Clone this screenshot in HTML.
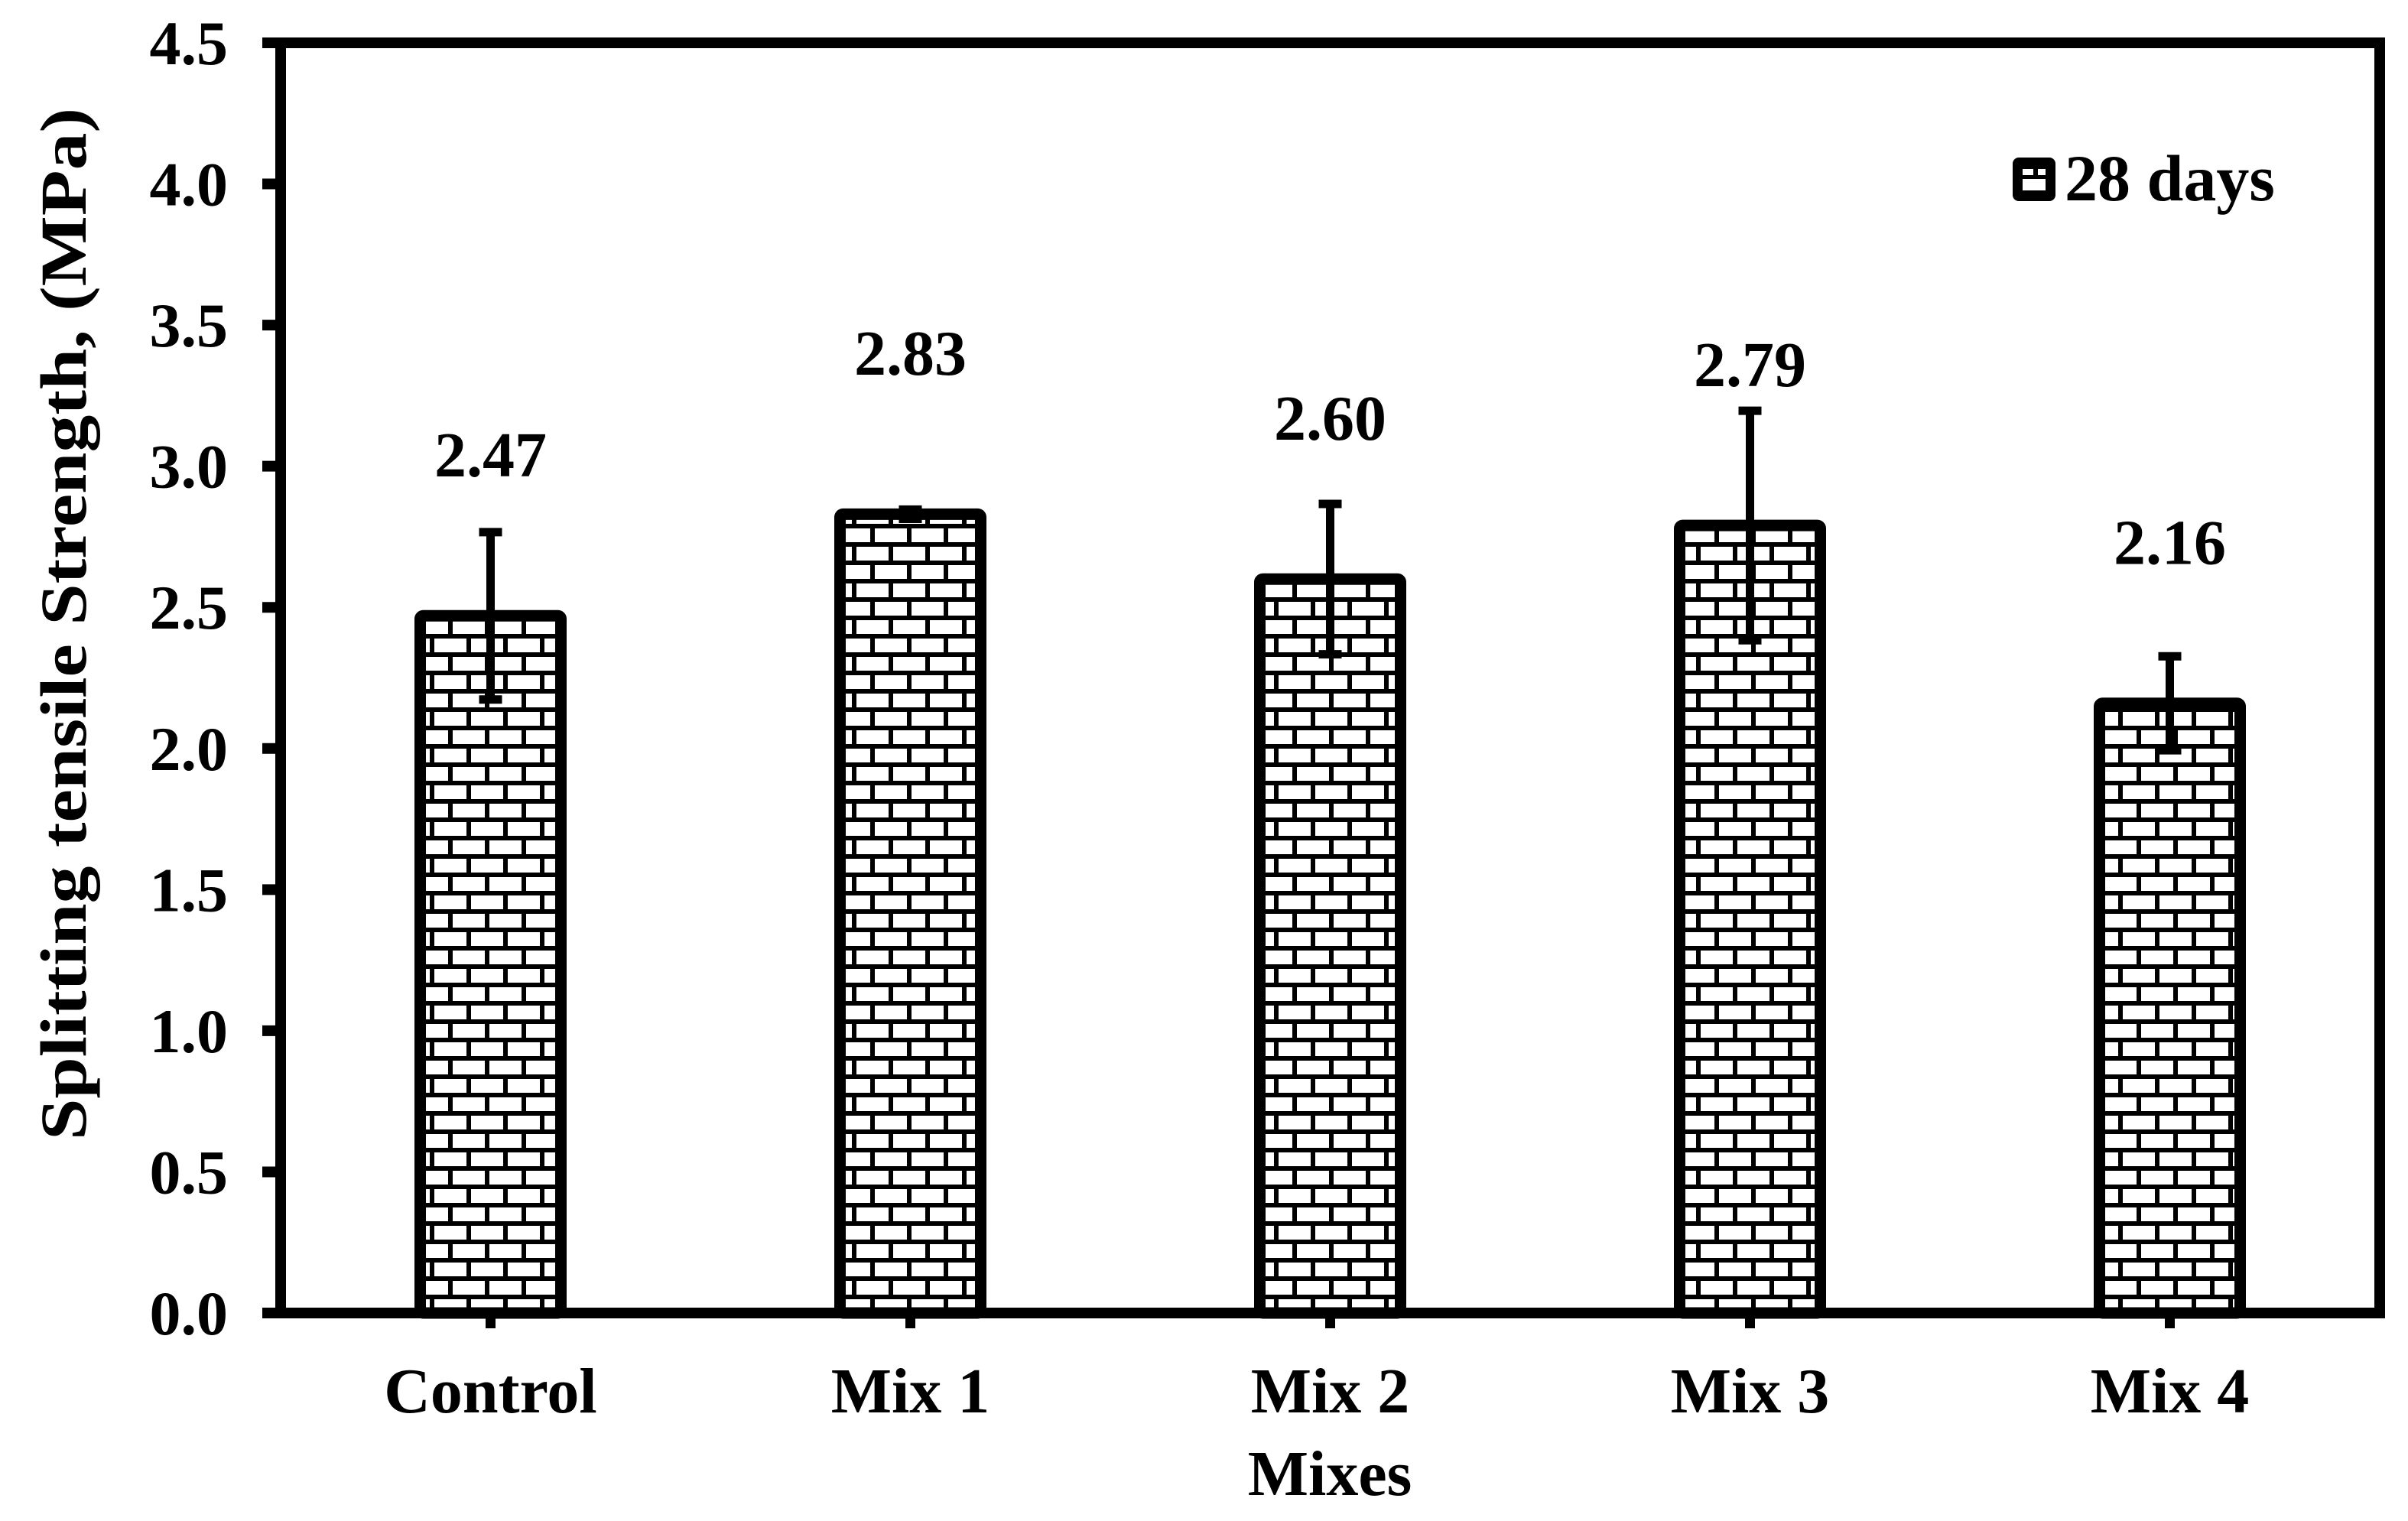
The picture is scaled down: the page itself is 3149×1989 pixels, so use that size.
<!DOCTYPE html>
<html><head><meta charset="utf-8"><style>
html,body{margin:0;padding:0;background:#fff;}
svg{display:block;}
text{font-family:"Liberation Serif",serif;font-weight:bold;fill:#000;}
</style></head><body>
<svg id="chart" width="3149" height="1989" viewBox="0 0 3149 1989" xmlns="http://www.w3.org/2000/svg">
<defs>
<pattern id="brick" patternUnits="userSpaceOnUse" width="48" height="48" x="0" y="1717">
<rect width="48" height="48" fill="#fff"/>
<rect x="0" y="0" width="48" height="6" fill="#000"/>
<rect x="0" y="24" width="48" height="6" fill="#000"/>
<rect x="10" y="0" width="6" height="24" fill="#000"/>
<rect x="34" y="24" width="6" height="24" fill="#000"/>
</pattern>
</defs>
<g id="plot"></g>
</svg>
<script>
const categories = ["Control","Mix 1","Mix 2","Mix 3","Mix 4"];
const values = [2.47, 2.83, 2.60, 2.79, 2.16];
const errors = [0.31, 0.03, 0.28, 0.42, 0.18];
const valueLabels = ["2.47","2.83","2.60","2.79","2.16"];
const yTicks = [0,0.5,1,1.5,2,2.5,3,3.5,4,4.5];
const yTickLabels = ["0.0","0.5","1.0","1.5","2.0","2.5","3.0","3.5","4.0","4.5"];

const NS = "http://www.w3.org/2000/svg";
const L = 367, R = 3112, T = 56, B = 1717, YMAX = 4.5;
const y = v => B - (v / YMAX) * (B - T);
const band = (R - L) / categories.length;
const x = i => L + band * (i + 0.5);
const g = document.getElementById('plot');
function el(tag, attrs, parent) {
  const e = document.createElementNS(NS, tag);
  for (const k in attrs) e.setAttribute(k, attrs[k]);
  (parent || g).appendChild(e);
  return e;
}

// bars
const BW = 184;
categories.forEach((c, i) => {
  const r = el('rect', {x: x(i) - BW/2, y: y(values[i]), width: BW, height: B - y(values[i]), fill: 'url(#brick)', stroke: '#000', 'stroke-width': 15, rx: 4});
  
  
});

// error bars
categories.forEach((c, i) => {
  const eg = el('g', {});
  
  
  const top = y(values[i] + errors[i]), bot = y(values[i] - errors[i]);
  el('line', {x1: x(i), x2: x(i), y1: top, y2: bot, stroke: '#000', 'stroke-width': 11}, eg);
  el('line', {x1: x(i) - 15, x2: x(i) + 15, y1: top + 5, y2: top + 5, stroke: '#000', 'stroke-width': 11}, eg);
  el('line', {x1: x(i) - 15, x2: x(i) + 15, y1: bot - 5, y2: bot - 5, stroke: '#000', 'stroke-width': 11}, eg);
});

// value labels
categories.forEach((c, i) => {
  const t = el('text', {x: x(i), y: y(values[i] + 0.57) + 28, 'text-anchor': 'middle', 'font-size': 84});
  t.textContent = valueLabels[i];
  
  
});

// frame
const frame = el('rect', {x: L, y: T, width: R - L, height: B - T, fill: 'none', stroke: '#000', 'stroke-width': 14});



// y ticks
yTicks.forEach((v, i) => {
  const tk = el('line', {x1: L - 24, x2: L, y1: y(v), y2: y(v), stroke: '#000', 'stroke-width': 14});
  
  
  const t = el('text', {x: 298, y: y(v) + 28, 'text-anchor': 'end', 'font-size': 82});
  t.textContent = yTickLabels[i];
  
  
});
const xa = el('line', {x1: L - 24, x2: L, y1: B, y2: B, stroke: '#000', 'stroke-width': 14});



// x ticks and labels
categories.forEach((c, i) => {
  const tk = el('line', {x1: x(i), x2: x(i), y1: B, y2: B + 20, stroke: '#000', 'stroke-width': 13});
  
  
  const t = el('text', {x: x(i), y: 1847, 'text-anchor': 'middle', 'font-size': 84});
  t.textContent = c;
  
  
});

// axis titles
const xt = el('text', {x: 1739, y: 1955, 'text-anchor': 'middle', 'font-size': 84});
xt.textContent = 'Mixes';


const yt = el('text', {x: 0, y: 0, 'text-anchor': 'middle', 'font-size': 86, textLength: 1350, lengthAdjust: 'spacingAndGlyphs', transform: 'translate(112,816) rotate(-90)'});
yt.textContent = 'Splitting tensile Strength, (MPa)';



// legend
const lg = el('g', {});


el('rect', {x: 2632, y: 206, width: 56, height: 57, rx: 8, fill: '#000'}, lg);
el('rect', {x: 2645, y: 221, width: 14, height: 8, fill: '#fff'}, lg);
el('rect', {x: 2665, y: 221, width: 10, height: 8, fill: '#fff'}, lg);
el('rect', {x: 2645, y: 234, width: 30, height: 15, fill: '#fff'}, lg);
const lt = el('text', {x: 2700, y: 262, 'font-size': 86}, lg);
lt.textContent = '28 days';
</script>
</body></html>
